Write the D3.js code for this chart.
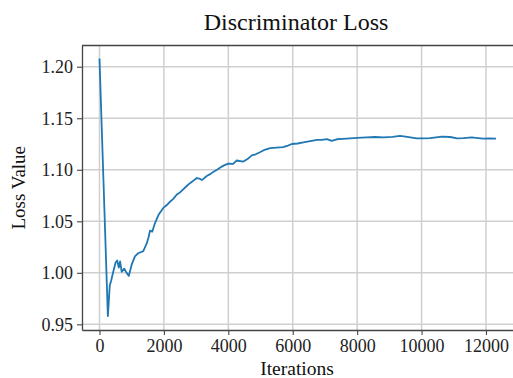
<!DOCTYPE html>
<html>
<head>
<meta charset="utf-8">
<script src="https://cdn.jsdelivr.net/npm/d3@7"></script>
<style>
  html, body { margin: 0; padding: 0; background: #fff; }
  svg { display: block; font-family: "Liberation Serif", "DejaVu Serif", serif; }
</style>
</head>
<body>
<svg id="chart" width="513" height="378"></svg>
<script>
const iterations = [0, 260, 320, 360, 420, 500, 550, 600, 640, 690, 770, 840, 910, 1000, 1100, 1200, 1360, 1460, 1520, 1570, 1640, 1720, 1830, 1980, 2100, 2190, 2300, 2400, 2500, 2600, 2700, 2810, 2900, 3020, 3100, 3180, 3330, 3450, 3540, 3650, 3740, 3850, 4000, 4150, 4260, 4350, 4470, 4620, 4730, 4850, 4980, 5100, 5300, 5500, 5700, 5850, 5970, 6150, 6330, 6500, 6750, 6900, 7060, 7210, 7370, 7550, 7780, 8000, 8300, 8550, 8820, 9100, 9330, 9500, 9650, 9850, 10050, 10260, 10450, 10630, 10890, 11100, 11300, 11560, 11750, 11920, 12100, 12310];
const lossValues = [1.208, 0.958, 0.988, 0.992, 1.000, 1.010, 1.012, 1.005, 1.011, 1.001, 1.004, 1.000, 0.997, 1.008, 1.016, 1.019, 1.021, 1.028, 1.034, 1.041, 1.040, 1.048, 1.056, 1.063, 1.066, 1.069, 1.072, 1.076, 1.078, 1.081, 1.084, 1.087, 1.089, 1.092, 1.0915, 1.090, 1.094, 1.096, 1.098, 1.100, 1.102, 1.104, 1.106, 1.1058, 1.109, 1.1085, 1.108, 1.111, 1.114, 1.115, 1.117, 1.119, 1.121, 1.1215, 1.122, 1.1235, 1.125, 1.1255, 1.1265, 1.1275, 1.129, 1.129, 1.1298, 1.128, 1.1296, 1.130, 1.1305, 1.131, 1.1315, 1.1318, 1.1315, 1.132, 1.1328, 1.1322, 1.1315, 1.1305, 1.1305, 1.1308, 1.1315, 1.1321, 1.1318, 1.1305, 1.1308, 1.1315, 1.1308, 1.1302, 1.1305, 1.1302];
const xTicks = [0, 2000, 4000, 6000, 8000, 10000, 12000];
const yTicks = [0.95, 1.00, 1.05, 1.10, 1.15, 1.20];
const titleText = "Discriminator Loss";
const xLabel = "Iterations";
const yLabel = "Loss Value";

const W = 513, H = 378;
const plot = { left: 82, right: 516, top: 45.5, bottom: 330 };

const svg = d3.select("#chart");

const x = d3.scaleLinear().domain([-543, 12932]).range([plot.left, plot.right]);
const y = d3.scaleLinear().domain([0.9445, 1.2206]).range([plot.bottom, plot.top]);

svg.append("defs").append("clipPath").attr("id", "clip")
  .append("rect")
  .attr("x", plot.left).attr("y", plot.top)
  .attr("width", plot.right - plot.left).attr("height", plot.bottom - plot.top);

// grid
const grid = svg.append("g").attr("clip-path", "url(#clip)");
grid.selectAll("line.vg").data(xTicks).join("line")
  .attr("x1", d => x(d)).attr("x2", d => x(d))
  .attr("y1", plot.top).attr("y2", plot.bottom)
  .attr("stroke", "#cfcfcf").attr("stroke-width", 1.5);
grid.selectAll("line.hg").data(yTicks).join("line")
  .attr("x1", plot.left).attr("x2", plot.right)
  .attr("y1", d => y(d)).attr("y2", d => y(d))
  .attr("stroke", "#cfcfcf").attr("stroke-width", 1.5);

// line
const pts = iterations.map((it, i) => [it, lossValues[i]]);
svg.append("path")
  .datum(pts)
  .attr("clip-path", "url(#clip)")
  .attr("fill", "none")
  .attr("stroke", "#1f77b4")
  .attr("stroke-width", 1.8)
  .attr("stroke-linejoin", "round")
  .attr("d", d3.line().x(d => x(d[0])).y(d => y(d[1])));

// axes
const xAxis = svg.append("g")
  .attr("transform", `translate(0,${plot.bottom})`)
  .call(d3.axisBottom(x).tickValues(xTicks).tickFormat(d3.format("d")).tickSize(5).tickPadding(4).tickSizeOuter(0));
const yAxis = svg.append("g")
  .attr("transform", `translate(${plot.left},0)`)
  .call(d3.axisLeft(y).tickValues(yTicks).tickFormat(d3.format(".2f")).tickSize(5).tickPadding(4).tickSizeOuter(0));

[xAxis, yAxis].forEach(g => {
  g.select(".domain").attr("stroke", "#444").attr("stroke-width", 1.3);
  g.selectAll(".tick line").attr("stroke", "#444").attr("stroke-width", 1.1);
  g.selectAll(".tick text").attr("fill", "#222").style("font-size", "18px")
    .style("font-family", '"Liberation Serif", serif');
});

// top spine
svg.append("line")
  .attr("x1", plot.left).attr("x2", plot.right)
  .attr("y1", plot.top).attr("y2", plot.top)
  .attr("stroke", "#444").attr("stroke-width", 1.3);

// title
svg.append("text")
  .attr("x", (plot.left + plot.right) / 2 - 3)
  .attr("y", 30)
  .attr("text-anchor", "middle")
  .attr("fill", "#111")
  .style("font-size", "24px")
  .text(titleText);

// x label
svg.append("text")
  .attr("x", (plot.left + plot.right) / 2 - 2)
  .attr("y", 375)
  .attr("text-anchor", "middle")
  .attr("fill", "#111")
  .style("font-size", "19.5px")
  .text(xLabel);

// y label
svg.append("text")
  .attr("transform", `translate(25,${(plot.top + plot.bottom) / 2}) rotate(-90)`)
  .attr("text-anchor", "middle")
  .attr("fill", "#111")
  .style("font-size", "19px")
  .text(yLabel);
</script>
</body>
</html>
